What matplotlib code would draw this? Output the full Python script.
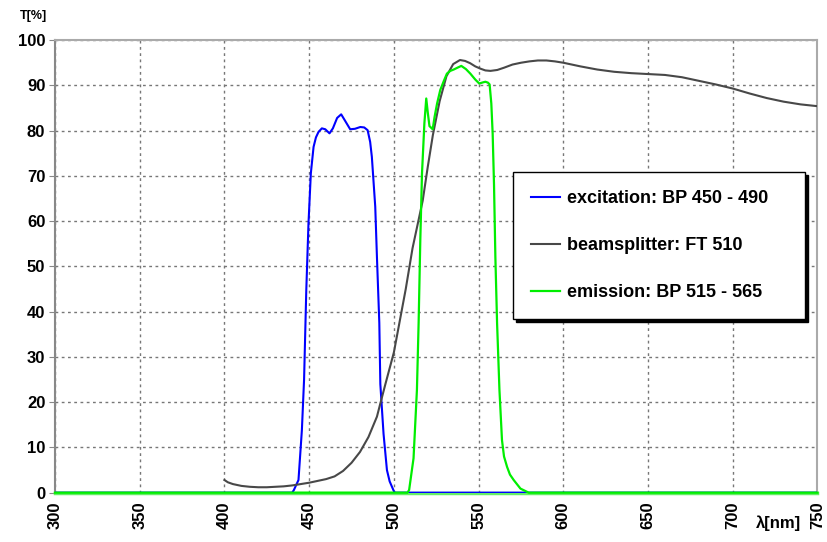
import matplotlib
matplotlib.use("Agg")
import matplotlib.pyplot as plt

plt.rcParams["font.family"] = ["Liberation Sans", "DejaVu Sans"]

# excitation filter BP 450 - 490
exc_wl = [300, 440, 441, 443.7, 445.7, 447, 448.3, 449.6, 451, 452.6, 454, 455.5,
          457.5, 459.5, 462, 464, 466.5, 468.9, 471, 474.2, 477, 480.2, 482.5,
          484.5, 486, 487, 489, 490, 491.4, 492, 493.9, 495.9, 497.5, 499.8, 500.5, 750]
exc_t = [0, 0, 0.6, 2.8, 13.8, 25, 44.7, 59.5, 70.6, 76.4, 78.5, 79.7,
         80.5, 80.3, 79.4, 80.5, 82.8, 83.6, 82.3, 80.3, 80.4, 80.8, 80.7,
         80.1, 77.5, 74.2, 63.2, 52.1, 37.5, 24, 13, 5, 2.5, 0.5, 0, 0]

# beamsplitter FT 510
bs_wl = [400, 402, 405, 410, 415, 420, 425, 430, 435, 440, 445, 450, 455, 460,
         465, 470, 475, 480, 485, 490, 492, 495, 500, 503, 507, 511, 515, 517,
         520, 523, 527, 531, 535, 539, 542, 545, 548, 551, 554, 557, 561, 565,
         570, 575, 580, 585, 590, 595, 600, 610, 620, 630, 640, 650, 660, 670,
         680, 690, 700, 710, 720, 730, 740, 750]
bs_t = [2.8, 2.3, 1.9, 1.5, 1.3, 1.2, 1.2, 1.3, 1.4, 1.6, 1.9, 2.2, 2.6, 3.0,
        3.6, 4.8, 6.6, 9.0, 12.3, 16.8, 19.7, 24, 31, 37, 45, 54, 61, 64.5,
        72, 79, 86.5, 92, 94.7, 95.6, 95.4, 94.9, 94.2, 93.7, 93.3, 93.2, 93.4, 93.9,
        94.6, 95.0, 95.3, 95.5, 95.5, 95.3, 95.0, 94.2, 93.5, 93.0, 92.7, 92.5, 92.3, 91.8,
        91.0, 90.2, 89.3, 88.2, 87.2, 86.4, 85.8, 85.4]

# emission filter BP 515 - 565
em_wl = [300, 508, 509, 511.6, 513.6, 514.6, 515.6, 516.6, 518, 519.1, 520, 521,
         522.9, 524, 525.5, 527.4, 529.5, 531.3, 533.3, 535.3, 537.5, 539.8, 542.5,
         545.1, 548, 550.4, 552, 554, 555.5, 556.5, 557.5, 558.3, 559.1, 559.9,
         560.9, 562.3, 563.8, 565, 566.8, 568.5, 570.7, 574.7, 579.6, 750]
em_t = [0, 0, 0.6, 7.6, 22.7, 37.5, 55.9, 70.6, 81.6, 87.1, 84, 81,
        80.3, 83, 86, 89, 91, 92.6, 93.2, 93.5, 93.9, 94.3, 93.6,
        92.6, 91.3, 90.4, 90.6, 90.8, 90.6, 90.2, 86, 79.3, 68, 52,
        37.5, 22.7, 11.6, 8, 5.7, 4, 2.8, 0.9, 0, 0]

labels = ["excitation: BP 450 - 490", "beamsplitter: FT 510", "emission: BP 515 - 565"]
colors = ["#0000ff", "#484848", "#00ee00"]

x_ticks = list(range(300, 751, 50))
y_ticks = list(range(0, 101, 10))


def main():
    fig = plt.figure(figsize=(8.27, 5.42), dpi=100)
    ax = fig.add_axes([0.0665, 0.091, 0.922, 0.835])

    ax.plot(exc_wl, exc_t, color=colors[0], lw=1.5, label=labels[0], zorder=3)
    ax.plot(bs_wl, bs_t, color=colors[1], lw=1.5, label=labels[1], zorder=4)
    ax.plot(em_wl, em_t, color=colors[2], lw=1.6, label=labels[2], zorder=5,
            clip_on=False)

    ax.set_xlim(300, 750)
    ax.set_ylim(0, 100)
    ax.set_xticks(x_ticks)
    ax.set_yticks(y_ticks)
    ax.set_xticklabels([str(v) for v in x_ticks], rotation=90,
                       fontweight="bold", fontsize=12)
    ax.set_yticklabels([str(v) for v in y_ticks], fontweight="bold", fontsize=12)
    ax.tick_params(axis="x", length=0, pad=6)
    ax.tick_params(axis="y", length=4, color="#888888", pad=3)

    ax.grid(True, color="#777777", lw=1, linestyle=(0, (2, 2.5)))
    for side in ["top", "right", "left"]:
        ax.spines[side].set_color("#aaaaaa")
        ax.spines[side].set_linewidth(1.5)
    ax.spines["left"].set_color("#888888")
    ax.spines["bottom"].set_color("#66ee66")
    ax.spines["bottom"].set_linewidth(2.5)

    leg = ax.legend(loc="upper left", bbox_to_anchor=(0.601, 0.381, 0.383, 0.327),
                    mode="expand", borderaxespad=0,
                    prop={"weight": "bold", "size": 13},
                    handlelength=1.6, handletextpad=0.35, labelspacing=1.65,
                    borderpad=1.0, fancybox=False, framealpha=1,
                    shadow={"color": "black", "alpha": 1})
    leg.get_frame().set_edgecolor("black")
    leg.get_frame().set_linewidth(1.0)
    leg.set_zorder(10)

    fig.text(20 / 827, 1 - 16 / 542, "T[%]", fontsize=9, fontweight="bold",
             va="center", ha="left")
    fig.text(778 / 827, 1 - 523 / 542, "λ[nm]", fontsize=12, fontweight="bold",
             va="center", ha="center")

    fig.savefig("out.png", dpi=100)


if __name__ == "__main__":
    main()
